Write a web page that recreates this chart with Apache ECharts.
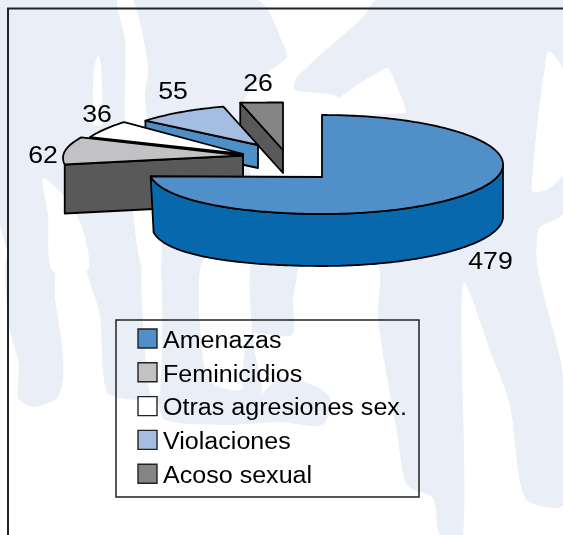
<!DOCTYPE html>
<html><head><meta charset="utf-8">
<style>html,body{margin:0;padding:0;background:#fff}#c{width:563px;height:535px}</style>
<script src="https://cdn.jsdelivr.net/npm/echarts@6/dist/echarts.min.js"></script>
</head><body><div id="c"></div>
<script>
// ---- data
const categories = ['Amenazas','Feminicidios','Otras agresiones sex.','Violaciones','Acoso sexual'];
const values = [479,62,36,55,26];
const topColors = ['#518FC8','#C2C2C4','#FFFFFF','#A5BDE0','#858585'];
const sideColors = ['#0868AE','#595959','#FFFFFF','#4F8FC8','#595959'];
// ---- exploded-slice projection: apex position, rim ellipse, thickness
const views = [
 {ax:322,ay:177,d:0,c:-12.5,rx:181,rxL:173,ry:49.5,h:52,tilt:5,htilt:4,hx:3,z:5},
 {ax:243,ay:155.5,d:0,c:2.5,rx:180,ry:47,h:49,z:4},
 {ax:243,ay:154,d:0,c:6.7,rx:170,ry:54,h:23,z:3},
 {ax:258,ay:145,d:7.6,c:15,rx:172,ry:55,h:23,z:2},
 {ax:283,ay:150,d:0,c:-42,rx:174,ry:5.5,h:23,z:1}
];
// ---- page watermark behind the chart
const BLUE='#E9EEF7', WHITE='#FFFFFF';
const watermark = [
 [BLUE,[[0,0],[257,0],[283,43],[287,57],[267,73],[245,100],[245,265],[8,265],[8,255],[0,223]]],
 [BLUE,[[8,255],[52,255],[55,298],[62,345],[63,378],[57,398],[33,407],[18,398],[19,365],[10,332],[8,320]]],
 [BLUE,[[88,255],[100,315],[107,392],[135,400],[155,398],[165,420],[225,425],[280,422],[323,425],[330,398],[313,385],[280,378],[256,398],[243,388],[253,265],[245,255]]],
 [BLUE,[[377,0],[563,0],[563,213],[540,227],[537,237],[537,265],[545,300],[563,375],[563,505],[525,498],[510,405],[493,358],[463,283],[463,535],[440,535],[433,498],[407,485],[397,432],[378,320],[378,265],[340,265],[340,100],[295,90],[297,77],[363,17]]],
 [WHITE,[[143,260],[143,320],[150,393],[160,395],[160,260]]],
 [WHITE,[[203,260],[203,360],[215,385],[243,388],[253,265]]],
 [BLUE,[[253,255],[297,255],[297,275],[293,298],[292,335],[250,335],[243,388],[253,400],[262,392],[253,340]]],
 [WHITE,[[43,178],[67,200],[83,230],[88,270],[52,270],[48,215]]],
 [WHITE,[[117,0],[133,0],[148,65],[145,100],[160,213],[160,270],[143,270],[133,213],[125,120],[125,40]]],
 [WHITE,[[98,55],[94,70],[93,100],[93,125],[102,125],[101,65]]],
 [WHITE,[[387,68],[337,100],[337,113],[405,113],[405,107],[393,77]]],
 [WHITE,[[547,52],[532,190],[547,190],[563,173],[563,70],[552,53]]]
];
const total = values.reduce((a,b)=>a+b,0);
const starts = []; values.reduce((a,v,i)=>(starts[i]=a,a+v),0);
const LINE = 1.8;
function rimPoint(v,deg,dy){
  const t = deg*Math.PI/180, s=Math.sin(t), left=s<0;
  const rx = left&&v.rxL ? v.rxL : v.rx;
  const extra = left&&v.tilt ? v.tilt*s*s : 0;
  let x=v.ax+v.d+rx*s, y=v.ay+v.c-v.ry*Math.cos(t)+extra+(dy||0);
  if(dy&&left&&v.htilt){ y+=v.htilt*s*s; x+=v.hx*s*s; }
  return [x,y];
}
function arc(v,a,b,dy){
  const pts=[]; const n=Math.max(2,Math.ceil(Math.abs(b-a)));
  for(let i=0;i<=n;i++) pts.push(rimPoint(v,a+(b-a)*i/n,dy));
  return pts;
}
function poly(points,fill){
  return {type:'polygon',shape:{points},style:{fill,stroke:'#000',lineWidth:LINE,lineJoin:'round'}};
}
function renderSlice(idx){
  return function(params,api){
    const val = api.value(0), v = views[idx];
    const a0 = starts[idx]/total*360, a1 = a0+val/total*360;
    const kids=[];
    if(idx===0){
      const side = arc(v,90,a1,0).concat(arc(v,a1,90,v.h));
      kids.push(poly(side,sideColors[idx]));
    } else {
      const s = rimPoint(v,a0,0), ap=[v.ax,v.ay];
      kids.push(poly([s,ap,[ap[0],ap[1]+v.h],[s[0],s[1]+v.h]],sideColors[idx]));
    }
    kids.push(poly([[v.ax,v.ay]].concat(arc(v,a0,a1,0)),topColors[idx]));
    return {type:'group',children:kids};
  };
}
const series = categories.map((name,i)=>({
  type:'custom',name,coordinateSystem:'none',z:views[i].z,silent:true,
  itemStyle:{color:topColors[i]},
  data:[[values[i]]],renderItem:renderSlice(i),animation:false
}));
const labelPos = [[490.5,262.5],[43,156.5],[97,115],[173,92.5],[258,84.5]];
const LEG={x:116,y:320,w:303,h:177,ix:138,iy:329,is:19,step:33.8,tx:163,base:341.5,font:23,sx:1.09};
const text=(str,x,y,size,sx,align)=>({type:'text',z:20,silent:true,x,y,scaleX:sx,
  style:{text:str,fontFamily:'Liberation Sans',fontSize:size,fill:'#000',align,verticalAlign:'middle'}});
const legendEls=[{type:'rect',z:-1,silent:true,shape:{x:LEG.x,y:LEG.y,width:LEG.w,height:LEG.h},style:{fill:'none',stroke:'#222',lineWidth:1.5}}];
categories.forEach((c,i)=>{
  legendEls.push({type:'rect',z:20,silent:true,shape:{x:LEG.ix,y:LEG.iy+i*LEG.step,width:LEG.is,height:LEG.is},style:{fill:topColors[i],stroke:'#222',lineWidth:1.4}});
  legendEls.push(text(c,LEG.tx,LEG.base+i*LEG.step,LEG.font,LEG.sx,'left'));
});
const chart = echarts.init(document.getElementById('c'),null,{renderer:'canvas'});
chart.setOption({
  backgroundColor:'#FFFFFF',
  animation:false,
  graphic:watermark.map(w=>({type:'polygon',z:-10,silent:true,shape:{points:w[1],smooth:0.25},style:{fill:w[0]}}))
   .concat([{type:'polyline',z:-5,silent:true,shape:{points:[[8,535],[8,8.5],[563,8.5]]},style:{stroke:'#222',lineWidth:2,fill:'none'}}])
   .concat(legendEls)
   .concat(values.map((v,i)=>text(String(v),labelPos[i][0],labelPos[i][1],24,1.11,'center'))),
  series
});
</script></body></html>
